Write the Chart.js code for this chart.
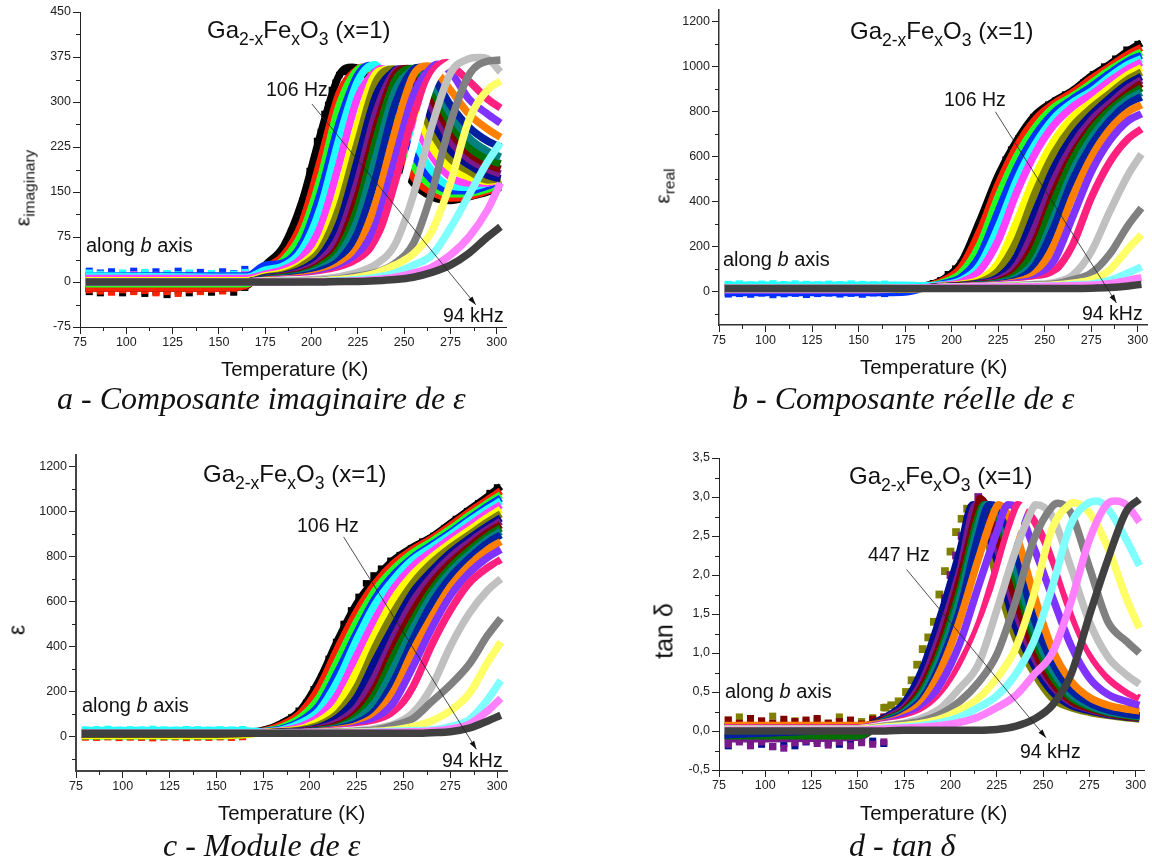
<!DOCTYPE html>
<html>
<head>
<meta charset="utf-8">
<style>
html, body { margin: 0; background: #fff; }
#page { position: relative; width: 1152px; height: 860px; overflow: hidden; font-family: "Liberation Sans", Arial, sans-serif; color: #111; }
canvas { position: absolute; }
.txt { position: absolute; white-space: nowrap; line-height: 1; transform: translateY(-50%); }
.txt sub { font-size: 17.5px; line-height: 0; vertical-align: -7px; }
.cap { font-family: "Liberation Serif", "Times New Roman", serif; font-style: italic; }
.ytitle { position: absolute; white-space: nowrap; line-height: 1; font-size: 21px; transform: translate(-50%, -50%) rotate(-90deg); }
.ytitle sub { font-size: 15.5px; line-height: 0; vertical-align: -5px; }
</style>
</head>
<body>
<div id="page"></div>
<script src="https://cdn.jsdelivr.net/npm/chart.js@4/dist/chart.umd.min.js"></script>
<script>
// temperature grid shared by all curves (K)
const temps = [78,150,165,175,185,195,205,215,225,235,245,255,265,275,285,295,302];
const noiseTemps = [80,86,92,98,104,110,116,122,128,134,140,146,152,158,164];

// tick labels
const xTickValues = [75,100,125,150,175,200,225,250,275,300];
const imagTicks = [-75,0,75,150,225,300,375,450];
const realTicks = [0,200,400,600,800,1000,1200];
const modTicks = [0,200,400,600,800,1000,1200];
const tanTicks = [-0.5,0,0.5,1,1.5,2,2.5,3,3.5];

const allColors = ["#000000","#ff2200","#22ff22","#0033ff","#22ffff","#ff40ff","#ffff00","#808000","#000f90","#7a1a8a","#800000","#007000","#008080","#0022a0","#ff8000","#8033ff","#ff2080","#ffffff","#c0c0c0","#808080","#ffff66","#80ffff","#ff80ff","#404040"];
const tanColors = allColors.slice(7);

// a - imaginary part
const imagCurves = [
  [-10,-10,-6,28,60,135,248,345,356,320,215,165,142,136,142,150,158],
  [-10,-10,-5,23,45,100,205,315,355,335,250,175,150,140,143,152,160],
  [-3,-3,-3,18,37,82,175,295,354,345,280,195,160,147,148,155,165],
  [10,10,10,28,32,65,150,265,345,358,305,215,170,152,152,160,170],
  [10,8,8,20,27,54,125,240,335,361,325,240,185,160,158,165,172],
  [6,6,6,13,21,41,93,198,308,352,340,270,210,175,165,165,172],
  [2,2,2,10,16,31,64,150,265,348,352,300,225,190,175,168,170],
  [0,0,0,8,13,27,54,125,235,335,354,320,250,205,185,170,172],
  [0,0,0,7,11,21,43,98,205,312,353,335,270,220,195,178,172],
  [0,0,0,6,10,18,36,78,170,285,350,345,290,235,205,188,180],
  [0,0,0,5,9,15,30,62,145,260,345,352,305,250,215,196,188],
  [0,0,0,5,8,13,27,54,125,240,335,354,320,265,225,205,197],
  [0,0,0,4,7,12,23,46,105,212,318,355,332,280,240,218,208],
  [0,0,0,4,6,10,19,36,82,178,295,354,345,295,258,235,225],
  [0,0,0,3,5,8,14,28,58,135,250,345,358,320,280,255,241],
  [0,0,0,2,4,6,11,21,43,98,205,312,358,350,305,280,265],
  [0,0,0,2,3,5,9,17,33,70,165,278,350,362,335,305,290],
  [0,0,0,2,3,4,7,13,25,50,115,225,330,365,352,325,308],
  [0,0,0,1,2,3,5,9,16,30,62,145,260,348,372,372,350],
  [0,0,0,1,1,2,3,5,10,16,31,64,150,265,345,368,370],
  [0,0,0,1,1,1,2,4,8,15,28,47,85,165,270,320,335],
  [0,0,0,0,1,1,1,2,4,8,15,28,45,90,145,200,232],
  [0,0,0,0,0,1,1,1,2,4,8,15,25,45,75,120,165],
  [0,0,0,0,0,0,0,1,1,2,4,8,16,28,48,75,92]
];
const imagPeakT = [222,227,229,231,234,237,241,244,247,249,252,254,256,259,263,268,273,279,290];
const imagPeakV = [358,358,358,361,362,356,354,355,355,355,356,356,357,358,360,363,366,368,374];
const imagNoise = [
  { color: 0, values: [-16,-18,-14,-18,-13,-19,-16,-21,-15,-18,-13,-17,-14,-17,-9] },
  { color: 1, values: [-13,-15,-17,-13,-16,-14,-18,-16,-19,-13,-16,-12,-15,-11,-7] },
  { color: 3, values: [18,15,17,14,18,14,17,13,18,14,16,13,17,14,21] },
  { color: 4, values: [15,13,11,15,12,16,11,14,12,15,10,14,11,13,16] },
  { color: 5, values: [9,11,7,10,12,8,11,9,7,11,9,8,10,7,12] }
];
const imagEdgeT = [178,182,186,189,192,195,197,199,201,203,205,207,209,211,213,215,218,221];
const imagEdgeV = [32,40,55,85,100,135,150,185,200,235,250,280,295,320,332,345,350,352];

// b - real part
const realCurves = [
  [12,12,13,15,22,50,125,310,515,670,785,845,893,958,1010,1070,1105],
  [12,12,13,14,20,45,105,265,475,645,765,835,885,945,1000,1055,1085],
  [12,12,13,14,18,37,80,205,420,600,730,818,868,925,985,1035,1065],
  [-6,-6,-6,-4,14,32,60,155,355,550,695,795,855,910,970,1025,1050],
  [26,26,26,26,24,28,47,115,285,495,655,770,840,890,955,1010,1035],
  [6,6,8,10,14,25,40,90,225,440,615,740,820,875,935,990,1020],
  [8,8,9,10,13,22,30,50,125,310,515,670,775,840,905,965,995],
  [10,10,10,11,13,20,27,40,90,225,440,615,735,815,880,945,975],
  [12,12,12,13,14,20,25,35,60,155,355,550,690,785,860,925,955],
  [12,12,12,13,14,19,24,32,50,115,285,495,650,760,835,905,940],
  [12,12,12,13,14,18,23,30,42,90,225,440,610,730,815,885,925],
  [12,12,12,13,14,18,22,28,38,75,190,400,585,715,805,870,905],
  [12,12,12,13,14,18,21,26,35,60,140,330,535,680,785,855,885],
  [12,12,12,13,14,17,20,25,32,50,115,285,495,650,760,835,865],
  [12,12,12,13,14,16,20,24,29,42,80,205,420,595,720,800,830],
  [12,12,12,13,14,16,19,23,27,36,55,135,330,530,670,760,790],
  [12,12,12,13,14,16,19,22,25,32,42,85,205,415,575,680,722],
  [12,12,12,13,14,16,18,21,24,28,36,55,125,310,500,630,665],
  [12,12,12,13,14,16,18,20,22,26,30,38,70,175,355,520,610],
  [12,12,12,13,14,16,18,20,21,24,27,32,50,80,165,295,370],
  [12,12,12,13,14,16,18,19,20,22,24,27,35,50,95,190,250],
  [12,12,12,13,14,16,17,18,19,20,22,24,28,32,48,82,108],
  [12,12,12,13,14,16,17,18,18,19,20,22,24,27,33,48,60],
  [12,12,12,12,12,12,12,12,12,12,12,12,12,13,16,23,30]
];
const realNoise = [
  { color: 3, values: [-13,-11,-14,-9,-16,-12,-10,-15,-11,-9,-13,-10,-14,-8,-11] },
  { color: 4, values: [30,32,28,31,33,29,32,30,28,31,29,32,30,28,31] }
];
const realEdgeT = [190,194,198,202,205,208,211,214,217,220,223,226,229,232,236,240,244,248,252,256,261,266,271,276,282,288,294,300];
const realEdgeV = [35,48,75,100,125,165,225,280,345,405,470,525,585,630,680,725,775,800,830,850,875,895,930,965,1000,1035,1075,1100];

// c - modulus
const modCurves = [
  [15,15,20,28,60,118,250,430,590,700,785,840,885,945,1005,1065,1110],
  [14,14,18,25,52,105,220,395,555,680,770,830,878,935,995,1050,1090],
  [4,4,10,22,42,85,175,340,510,650,745,815,865,920,980,1035,1072],
  [12,12,15,22,35,70,140,290,460,615,720,795,850,905,965,1022,1058],
  [28,28,26,22,30,60,118,250,430,590,700,785,840,895,955,1010,1045],
  [8,8,12,20,27,45,90,190,360,525,660,755,820,878,935,992,1028],
  [6,6,10,18,24,35,70,140,290,460,615,720,795,858,915,972,1008],
  [12,12,14,18,22,30,52,105,220,400,555,680,770,838,895,952,988],
  [14,14,15,17,20,26,42,85,175,340,495,640,735,815,878,935,970],
  [14,14,15,17,20,24,36,65,130,270,445,600,710,795,860,920,955],
  [14,14,15,17,19,22,32,52,105,220,400,555,680,770,842,905,940],
  [14,14,15,17,19,21,29,44,90,190,360,515,650,750,825,890,925],
  [15,15,15,16,18,20,27,40,75,155,310,480,625,730,808,875,910],
  [15,15,15,16,18,20,25,36,60,118,250,430,590,705,790,860,895],
  [15,15,15,16,18,19,23,32,50,95,205,380,530,665,760,830,865],
  [15,15,15,16,18,19,22,28,42,75,155,310,480,625,725,795,830],
  [15,15,15,16,17,18,21,26,36,52,105,220,405,560,680,750,785],
  [15,15,15,16,17,18,20,24,30,42,75,155,310,480,615,705,750],
  [15,15,15,16,17,18,19,22,27,36,55,105,220,400,545,650,700],
  [15,15,15,16,17,17,19,21,24,30,50,80,155,230,320,450,525],
  [15,15,15,16,16,17,18,19,21,24,30,45,70,115,190,330,420],
  [15,15,15,15,16,16,17,18,19,21,24,27,30,45,75,165,250],
  [15,15,15,15,15,16,16,17,18,19,20,22,25,35,55,115,170],
  [15,15,15,15,15,15,15,15,15,15,15,15,18,22,38,70,95]
];
const modNoise = [
  { color: 1, values: [-2,-3,-1,-4,-2,-3,-5,-2,-1,-4,-2,-3,-1,-3,0] },
  { color: 4, values: [30,31,33,29,31,30,33,30,29,32,31,29,31,30,32] }
];
const modEdgeT = [176,181,186,190,194,198,202,206,210,214,218,222,226,230,234,238,243,248,254,260,266,272,278,284,290,296,300];
const modEdgeV = [30,42,62,85,115,150,210,265,345,420,500,560,620,680,715,745,780,805,835,865,890,925,965,1000,1035,1080,1105];

// d - tan delta, starts at 447 Hz
const tanCurves = [
  [null,null,null,null,null,null,null,2.85,1.95,1.2,.75,.42,.3,.24,.2,.17,.155],
  [.05,.05,.18,.36,.8,1.5,2.3,2.85,2.2,1.35,.85,.5,.33,.26,.21,.18,.165],
  [-.1,-.08,.16,.3,.65,1.28,2.05,2.88,2.35,1.55,.95,.58,.37,.28,.22,.19,.17],
  [.05,.05,.15,.27,.58,1.15,1.95,2.9,2.5,1.7,1.05,.62,.39,.29,.23,.19,.175],
  [-.06,-.06,.14,.25,.52,1.05,1.8,2.75,2.78,1.95,1.2,.7,.43,.31,.24,.2,.18],
  [.05,.05,.13,.24,.48,.98,1.7,2.65,2.85,2.1,1.3,.78,.47,.33,.25,.21,.19],
  [-.05,.05,.12,.22,.42,.88,1.55,2.5,2.88,2.3,1.45,.88,.53,.36,.27,.22,.2],
  [.07,.07,.11,.2,.38,.8,1.42,2.2,2.88,2.55,1.75,1.05,.64,.43,.33,.28,.26],
  [.04,.04,.1,.17,.3,.62,1.12,1.85,2.55,2.88,2.35,1.72,1.1,.68,.47,.38,.33],
  [.04,.04,.09,.14,.24,.45,.85,1.35,2.1,2.85,2.7,2.2,1.52,1.0,.68,.5,.42],
  [.03,.03,.08,.12,.2,.38,.7,1.18,1.8,2.6,2.88,2.45,1.75,1.15,.8,.6,.5],
  [.03,.03,.07,.1,.17,.3,.55,.85,1.55,2.3,2.88,2.75,2.1,1.4,.95,.72,.6],
  [.02,.02,.06,.09,.13,.22,.38,.62,.98,1.65,2.45,2.88,2.8,2.1,1.4,1.15,1.0],
  [.02,.02,.05,.07,.1,.16,.27,.42,.68,1.05,1.75,2.6,2.92,2.8,2.35,1.7,1.32],
  [.01,.01,.04,.05,.07,.11,.18,.3,.45,.72,1.15,1.85,2.65,2.93,2.85,2.45,2.12],
  [.01,.01,.03,.04,.05,.07,.11,.18,.3,.45,.72,1.0,1.65,2.45,2.92,2.9,2.68],
  [0,0,0,.01,.01,.01,.01,.01,.02,.06,.15,.33,.72,1.48,2.2,2.82,2.97]
];
const tanPeakT = [210,212,214,216,218,219,221,226,231,236,241,246,258,266,279,289];
const tanPeakV = [2.88,2.9,2.9,2.98,2.9,2.9,2.9,2.9,2.9,2.9,2.9,2.9,2.92,2.93,2.95,2.95];
const tanNoise = [
  { color: 7, values: [.14,.18,.1,.12,.19,.1,.13,.11,.14,.1,.18,.1,.12,.17,.3] },
  { color: 10, values: [.14,.1,.16,.13,.1,.15,.12,.14,.16,.1,.12,.14,.09,.15,.18] },
  { color: 8, values: [-.19,-.12,-.15,-.17,-.2,-.16,-.19,-.14,-.12,-.15,-.17,-.13,-.11,-.13,-.16] },
  { color: 9, values: [-.17,-.14,-.19,-.14,-.2,-.22,-.15,-.13,-.16,-.18,-.14,-.19,-.15,-.17,-.14] }
];
const oliveT = [165,168,172,176,179,182,185,188,191,194,197,200,203,206,209];
const oliveV = [.3,.33,.38,.5,.65,.85,1.05,1.2,1.4,1.75,2.05,2.3,2.55,2.72,2.85];
const tanPurpleT = [180,184,188,191,194,197,200,203,206,209,212,215];
const tanPurpleV = [.45,.7,.95,1.15,1.4,1.7,2.0,2.25,2.5,2.7,2.85,3.0];

const page = document.getElementById("page");

function addText(html, left, y, size, cls) {
  const d = document.createElement("div");
  d.className = "txt " + (cls || "");
  d.innerHTML = html;
  d.style.left = left + "px";
  d.style.top = y + "px";
  if (size) d.style.fontSize = size + "px";
  page.appendChild(d);
}

function addYTitle(html, x, y, size) {
  const d = document.createElement("div");
  d.className = "ytitle";
  d.innerHTML = html;
  d.style.left = x + "px";
  d.style.top = y + "px";
  if (size) d.style.fontSize = size + "px";
  page.appendChild(d);
}

// short ticks half way between the labelled ones
const minorTicks = {
  id: "minorTicks",
  afterDraw(chart) {
    const ctx = chart.ctx;
    ctx.save();
    ctx.strokeStyle = "#222";
    ctx.lineWidth = 1;
    Object.values(chart.scales).forEach(s => {
      const half = s.options.ticks.stepSize / 2;
      for (let k = Math.ceil(s.min / half); k * half <= s.max; k++) {
        if (k % 2 === 0) continue;
        const p = Math.round(s.getPixelForValue(k * half)) + 0.5;
        ctx.beginPath();
        if (s.axis === "x") { ctx.moveTo(p, s.top); ctx.lineTo(p, s.top + 4); }
        else { ctx.moveTo(s.right, p); ctx.lineTo(s.right - 4, p); }
        ctx.stroke();
      }
    });
    ctx.restore();
  }
};

// frequency arrow, given in data units
const arrow = {
  id: "arrow",
  afterDatasetsDraw(chart, args, o) {
    const ctx = chart.ctx, x = chart.scales.x, y = chart.scales.y;
    const x1 = x.getPixelForValue(o.from[0]), y1 = y.getPixelForValue(o.from[1]);
    const x2 = x.getPixelForValue(o.to[0]), y2 = y.getPixelForValue(o.to[1]);
    const a = Math.atan2(y2 - y1, x2 - x1);
    ctx.save();
    ctx.strokeStyle = "#222";
    ctx.fillStyle = "#111";
    ctx.lineWidth = 0.8;
    ctx.beginPath(); ctx.moveTo(x1, y1); ctx.lineTo(x2, y2); ctx.stroke();
    ctx.beginPath();
    ctx.moveTo(x2, y2);
    ctx.lineTo(x2 - 9 * Math.cos(a - 0.3), y2 - 9 * Math.sin(a - 0.3));
    ctx.lineTo(x2 - 9 * Math.cos(a + 0.3), y2 - 9 * Math.sin(a + 0.3));
    ctx.closePath();
    ctx.fill();
    ctx.restore();
  }
};

function curveData(values, peakT, peakV) {
  const pts = [];
  values.forEach((v, i) => { if (v !== null) pts.push({ x: temps[i], y: v }); });
  if (peakT !== undefined) pts.push({ x: peakT, y: peakV });
  return pts.sort((p, q) => p.x - q.x);
}

function squares(xs, ys, color, radius, order) {
  return {
    data: xs.map((t, k) => ({ x: t, y: ys[k] })),
    showLine: false,
    pointStyle: "rect",
    pointRadius: radius,
    pointBorderWidth: 0,
    pointBackgroundColor: color,
    order: order
  };
}

function drawPanel(p) {
  const leftM = 62, rightM = 10, topM = 10, bottomM = 32;
  const canvas = document.createElement("canvas");
  canvas.width = p.right - p.left + leftM + rightM;
  canvas.height = p.bottom - p.top + topM + bottomM;
  canvas.style.left = (p.left - leftM) + "px";
  canvas.style.top = (p.top - topM) + "px";
  page.appendChild(canvas);

  const colors = p.colors;
  const count = p.curves.length;
  const datasets = [];
  p.curves.forEach((values, i) => {
    datasets.push({
      data: curveData(values, p.peakT && p.peakT[i], p.peakV && p.peakV[i]),
      showLine: true,
      cubicInterpolationMode: "monotone",
      borderColor: colors[i],
      borderWidth: 7.5,
      borderCapStyle: "butt",
      borderJoinStyle: "round",
      pointRadius: 0,
      order: count - i
    });
  });
  p.noise.forEach((n, i) => {
    datasets.push(squares(noiseTemps, n.values, allColors[n.color], 5, count + 20 - i));
  });
  (p.extra || []).forEach((e, i) => {
    datasets.push(squares(e.x, e.y, e.color, e.radius, count + 5 - i));
  });

  new Chart(canvas, {
    type: "scatter",
    data: { datasets },
    plugins: [minorTicks, arrow],
    options: {
      responsive: false,
      animation: false,
      events: [],
      layout: { autoPadding: false, padding: { left: 0, top: topM, right: rightM, bottom: 0 } },
      plugins: { legend: { display: false }, tooltip: { enabled: false }, arrow: { from: p.arrowFrom, to: p.arrowTo } },
      scales: {
        x: {
          type: "linear", min: 75, max: p.xMax,
          afterFit(s) { s.height = bottomM; },
          afterBuildTicks(s) { s.ticks = xTickValues.map(value => ({ value })); },
          border: { color: p.axisColor, width: p.axisWidth },
          grid: { drawOnChartArea: false, tickLength: 7, tickColor: "#222" },
          ticks: { stepSize: 25, autoSkip: false, maxRotation: 0, padding: 1, color: "#222", font: { family: "Liberation Sans", size: 12.5 } }
        },
        y: {
          type: "linear", min: p.yMin, max: p.yMax,
          afterFit(s) { s.width = leftM; },
          afterBuildTicks(s) { s.ticks = p.yTicks.map(value => ({ value })); },
          border: { color: p.axisColor, width: p.axisWidth },
          grid: { drawOnChartArea: false, tickLength: 7, tickColor: "#222" },
          ticks: { stepSize: p.yStep, autoSkip: false, padding: 2, color: "#222", font: { family: "Liberation Sans", size: 12.5 },
            callback: p.comma ? v => v.toFixed(1).replace(".", ",") : v => v }
        }
      }
    }
  });
}

const formula = 'Ga<sub>2-x</sub>Fe<sub>x</sub>O<sub>3</sub> (x=1)';

drawPanel({ left: 80, right: 506, top: 12, bottom: 327, xMax: 305, yMin: -75, yMax: 450, yStep: 75, yTicks: imagTicks,
  curves: imagCurves, colors: allColors, peakT: imagPeakT, peakV: imagPeakV, noise: imagNoise,
  extra: [{ x: imagEdgeT, y: imagEdgeV, color: "#000", radius: 4.6 }],
  arrowFrom: [200.2, 296.7], arrowTo: [288.7, -38], axisColor: "#222", axisWidth: 1 });
drawPanel({ left: 719, right: 1147, top: 10, bottom: 325, xMax: 305, yMin: -151, yMax: 1252, yStep: 200, yTicks: realTicks,
  curves: realCurves, colors: allColors, noise: realNoise,
  extra: [{ x: realEdgeT, y: realEdgeV, color: "#000", radius: 4.6 }],
  arrowFrom: [223.5, 799], arrowTo: [288.6, -53], axisColor: "#333", axisWidth: 1.5 });
drawPanel({ left: 76, right: 507, top: 455, bottom: 771, xMax: 305.3, yMin: -152, yMax: 1249, yStep: 200, yTicks: modTicks,
  curves: modCurves, colors: allColors, noise: modNoise,
  extra: [{ x: modEdgeT, y: modEdgeV, color: "#000", radius: 4.6 }],
  arrowFrom: [218, 886], arrowTo: [289, -56], axisColor: "#444", axisWidth: 2 });
drawPanel({ left: 719, right: 1144, top: 458, bottom: 770, xMax: 304.5, yMin: -0.5, yMax: 3.5, yStep: 0.5, yTicks: tanTicks, comma: true,
  curves: tanCurves, colors: tanColors, peakT: tanPeakT, peakV: tanPeakV, noise: tanNoise,
  extra: [{ x: oliveT, y: oliveV, color: "#808000", radius: 5.5 }, { x: tanPurpleT, y: tanPurpleV, color: "#7a1a8a", radius: 5.5 }],
  arrowFrom: [176.3, 2.07], arrowTo: [251.6, -0.086], axisColor: "#222", axisWidth: 1 });

// titles
addText(formula, 207, 30, 24);
addText(formula, 850, 31, 24);
addText(formula, 203, 474, 24);
addText(formula, 849, 476, 24);
// axis titles
addText("Temperature (K)", 221, 369, 20.4);
addText("Temperature (K)", 860, 367, 20.4);
addText("Temperature (K)", 218, 813, 20.4);
addText("Temperature (K)", 860, 813, 20.4);
addYTitle("ε<sub>imaginary</sub>", 22, 188, 21);
addYTitle("ε<sub>real</sub>", 662, 186, 21);
addYTitle("ε", 17, 630, 23);
addYTitle("tan δ", 664, 631, 25);
// annotations
addText("106 Hz", 266, 90, 19.5);
addText("94 kHz", 443, 316, 19.5);
addText("along <i>b</i> axis", 86, 245, 20);
addText("106 Hz", 944, 100, 19.5);
addText("94 kHz", 1082, 314, 19.5);
addText("along <i>b</i> axis", 723, 259, 20);
addText("106 Hz", 297, 526, 19.5);
addText("94 kHz", 442, 761, 19.5);
addText("along <i>b</i> axis", 82, 705, 20);
addText("447 Hz", 868, 555, 19.5);
addText("94 kHz", 1020, 752, 19.5);
addText("along <i>b</i> axis", 725, 691, 20);
// captions
addText("a - Composante imaginaire de ε", 57, 398, 32, "cap");
addText("b - Composante réelle de ε", 732, 398, 32, "cap");
addText("c - Module de ε", 163, 845, 32, "cap");
addText("d - tan δ", 849, 845, 32, "cap");
</script>
</body>
</html>
